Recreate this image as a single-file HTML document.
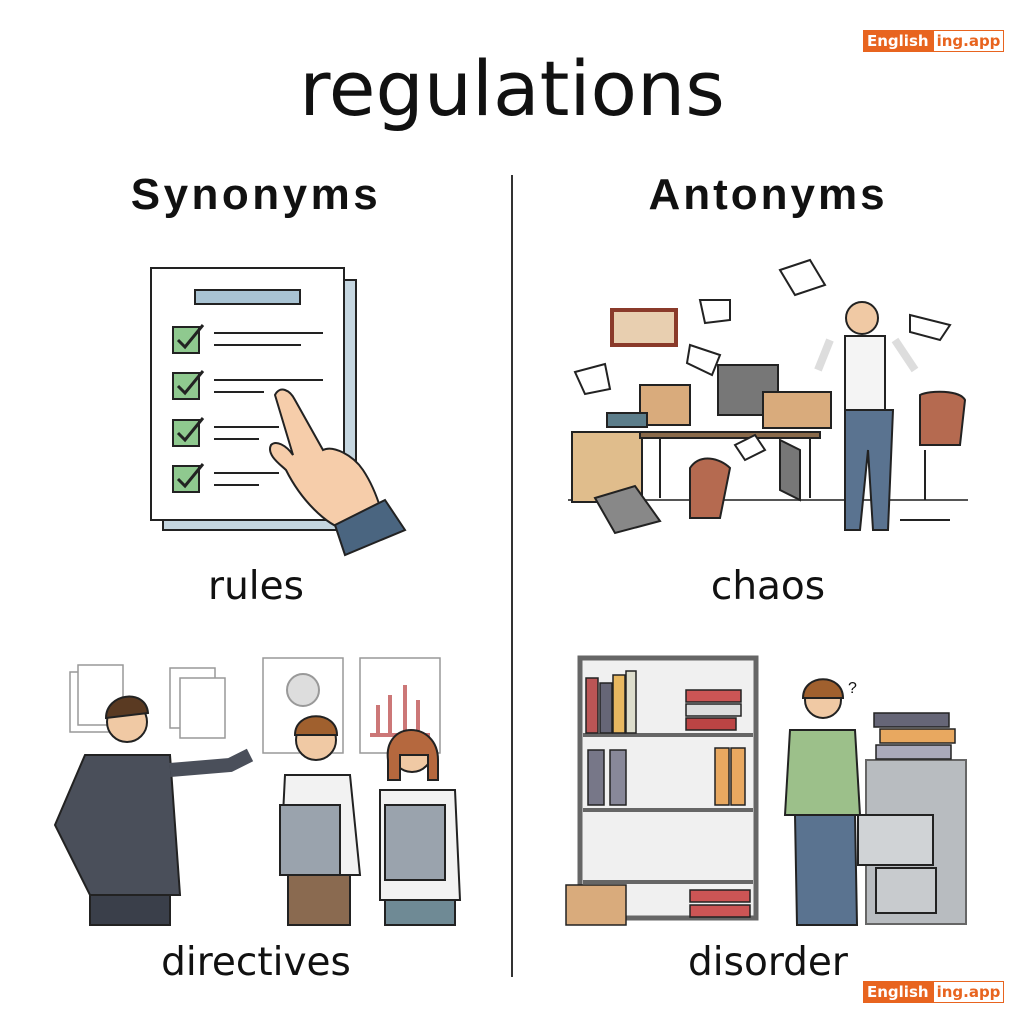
<!DOCTYPE html>
<html><head><meta charset="utf-8"><style>
html,body{margin:0;padding:0;background:#fff;}
body{width:1024px;height:1024px;position:relative;overflow:hidden;font-family:"Liberation Sans",sans-serif;color:#111;}
.t{position:absolute;text-align:center;white-space:nowrap;}
.lt{font-family:"DejaVu Sans","Liberation Sans",sans-serif;font-weight:normal;}
.logo{position:absolute;height:22px;display:flex;font-family:"DejaVu Sans","Liberation Sans",sans-serif;font-size:15px;font-weight:bold;line-height:20px;}
.logo .a{background:#e8641f;color:#fff;padding:0 3px;border:1px solid #e8641f;}
.logo .b{color:#e8641f;border:1px solid #e8641f;padding:0 3px;background:#fff;}
</style></head><body>
<div class="t lt" style="left:0;width:1024px;top:44px;font-size:76px;">regulations</div>
<div class="t" style="left:56px;width:400px;top:170px;font-size:44px;font-weight:bold;letter-spacing:3.5px;">Synonyms</div>
<div class="t" style="left:568px;width:400px;top:170px;font-size:44px;font-weight:bold;letter-spacing:3px;">Antonyms</div>
<div style="position:absolute;left:511px;top:175px;width:2px;height:802px;background:#333;"></div>
<div class="t lt" style="left:56px;width:400px;top:564px;font-size:39px;">rules</div>
<div class="t lt" style="left:568px;width:400px;top:564px;font-size:39px;">chaos</div>
<div class="t lt" style="left:56px;width:400px;top:940px;font-size:39px;">directives</div>
<div class="t lt" style="left:568px;width:400px;top:940px;font-size:39px;">disorder</div>
<div class="logo" style="left:863px;top:30px;"><span class="a">English</span><span class="b">ing.app</span></div>
<div class="logo" style="left:863px;top:981px;"><span class="a">English</span><span class="b">ing.app</span></div>
<svg width="1024" height="1024" style="position:absolute;left:0;top:0" fill="none" stroke="#222" stroke-width="2">
<rect x="163" y="280" width="193" height="250" fill="#c5d6e0"/>
<rect x="151" y="268" width="193" height="252" fill="#fff"/>
<rect x="195" y="290" width="105" height="14" fill="#a9c3d3"/>
<g fill="#8fc98f">
<rect x="173" y="327" width="26" height="26"/><rect x="173" y="373" width="26" height="26"/>
<rect x="173" y="420" width="26" height="26"/><rect x="173" y="466" width="26" height="26"/></g>
<path d="M178 340l7 7 18-22M178 386l7 7 18-22M178 433l7 7 18-22M178 479l7 7 18-22" stroke-width="3"/>
<path d="M214 333h109M214 345h87M214 380h109M214 392h50M214 427h65M214 439h45M214 473h65M214 485h45"/>
<path d="M275 395c5-10 15-5 20 5l28 50c10-5 30 5 40 20 10 15 15 30 18 40l-35 20c-20-5-45-30-60-60-5-5-20-15-15-25 5-5 15 0 22 10z" fill="#f6cdaa"/>
<path d="M335 525l50-25 20 30-60 25z" fill="#4a6580"/>
<path d="M568 500h400" stroke="#555"/>
<rect x="572" y="432" width="70" height="70" fill="#e0bd8c"/>
<path d="M640 432h180v6H640zM660 438v60M810 438v60" fill="#8a6a4a"/>
<rect x="718" y="365" width="60" height="50" fill="#777"/>
<rect x="640" y="385" width="50" height="40" fill="#d9ab7c"/>
<rect x="763" y="392" width="68" height="36" fill="#d9ab7c"/>
<rect x="612" y="310" width="64" height="35" fill="#e8cfb0" stroke="#8a3a2a" stroke-width="4"/>
<rect x="607" y="413" width="40" height="14" fill="#5c7d8a"/>
<path d="M595 498l40-12 25 35-45 12z" fill="#888"/>
<path d="M690 468c10-15 30-10 40 0l-10 50h-30z" fill="#b56a50"/>
<path d="M780 440l20 10v50l-20-10z" fill="#777"/>
<rect x="845" y="336" width="40" height="75" fill="#f4f4f4"/>
<circle cx="862" cy="318" r="16" fill="#f0c9a4"/>
<path d="M845 410h48l-5 120h-15l-5-80-8 80h-15z" fill="#5a7390"/>
<path d="M830 340l-12 30M895 340l20 30" stroke-width="8" stroke="#ddd"/>
<path d="M920 395c10-5 40-5 45 5l-5 45h-40z" fill="#b56a50"/>
<path d="M925 450v50M900 520h50" />
<g fill="#fff"><path d="M575 372l30-8 5 25-25 5z"/><path d="M780 270l30-10 15 25-30 10z"/><path d="M700 300l30 0 0 20-25 3z"/><path d="M910 315l40 10-10 15-30-8z"/><path d="M735 445l20-10 10 15-20 10z"/><path d="M690 345l30 10-8 20-25-12z"/></g>
<g fill="#fff" stroke="#999" stroke-width="1.5">
<rect x="70" y="672" width="45" height="60"/><rect x="78" y="665" width="45" height="60"/>
<rect x="170" y="668" width="45" height="60"/><rect x="180" y="678" width="45" height="60"/>
<rect x="263" y="658" width="80" height="95"/><rect x="360" y="658" width="80" height="95"/></g>
<circle cx="303" cy="690" r="16" fill="#ddd" stroke="#999"/>
<path d="M370 735h60M378 705v28M390 695v38M405 685v48M418 700v33" stroke="#c77" stroke-width="4"/>
<circle cx="127" cy="722" r="20" fill="#f0c9a4"/><path d="M106 718c0-25 40-30 42-5z" fill="#5a3a22"/>
<path d="M85 755h85l10 140H90l-35-70z" fill="#4a4f5a"/>
<path d="M90 895h80v30H90z" fill="#3a3f4a"/>
<path d="M170 770l60-5 20-10" stroke="#4a4f5a" stroke-width="14"/>
<circle cx="316" cy="740" r="20" fill="#f0c9a4"/><path d="M295 735c0-25 42-25 42 0z" fill="#a0602e"/>
<path d="M285 775h65l10 100h-80z" fill="#f2f2f2"/>
<rect x="280" y="805" width="60" height="70" fill="#9aa3ad"/>
<path d="M288 875h62v50h-62z" fill="#8a6a50"/>
<circle cx="412" cy="752" r="20" fill="#f0c9a4"/><path d="M388 760c-5-40 50-40 50 0v20h-10v-25h-28v25h-12z" fill="#b5683e"/>
<path d="M380 790h75l5 110h-80z" fill="#f2f2f2"/>
<rect x="385" y="805" width="60" height="75" fill="#9aa3ad"/>
<path d="M385 900h70v25h-70z" fill="#6f8a95"/>
<rect x="580" y="658" width="176" height="260" fill="#f0f0f0" stroke="#666" stroke-width="5"/>
<path d="M583 735h170M583 810h170M583 882h170" stroke="#666" stroke-width="4"/>
<g stroke-width="1.5"><rect x="586" y="678" width="12" height="55" fill="#b55"/><rect x="600" y="683" width="12" height="50" fill="#667"/><rect x="613" y="675" width="12" height="58" fill="#e8b860"/><rect x="626" y="671" width="10" height="62" fill="#ddc"/>
<rect x="686" y="690" width="55" height="12" fill="#c55"/><rect x="686" y="704" width="55" height="12" fill="#ddd"/><rect x="686" y="718" width="50" height="12" fill="#b44"/>
<rect x="588" y="750" width="16" height="55" fill="#778"/><rect x="610" y="750" width="16" height="55" fill="#889"/><rect x="715" y="748" width="14" height="57" fill="#e8a860"/><rect x="731" y="748" width="14" height="57" fill="#e8a860"/>
<rect x="566" y="885" width="60" height="40" fill="#d9ab7c"/>
<rect x="690" y="890" width="60" height="12" fill="#c55"/><rect x="690" y="905" width="60" height="12" fill="#c55"/></g>
<circle cx="823" cy="700" r="18" fill="#f0c9a4"/><path d="M803 698c0-25 40-25 40 0z" fill="#a0602e"/>
<path d="M790 730h65l5 85h-75z" fill="#9cc08a"/>
<path d="M795 815h60l2 110h-60z" fill="#5a7390"/>
<rect x="866" y="760" width="100" height="164" fill="#b8bcc0" stroke="#666"/>
<rect x="858" y="815" width="75" height="50" fill="#d0d3d6"/>
<rect x="876" y="868" width="60" height="45" fill="#c8cbce"/>
<g stroke-width="1.5"><rect x="874" y="713" width="75" height="14" fill="#667"/><rect x="880" y="729" width="75" height="14" fill="#e8a860"/><rect x="876" y="745" width="75" height="14" fill="#aab"/></g>
</svg>
<div class="t" style="left:848px;top:680px;font-size:16px;">?</div>
</body></html>
